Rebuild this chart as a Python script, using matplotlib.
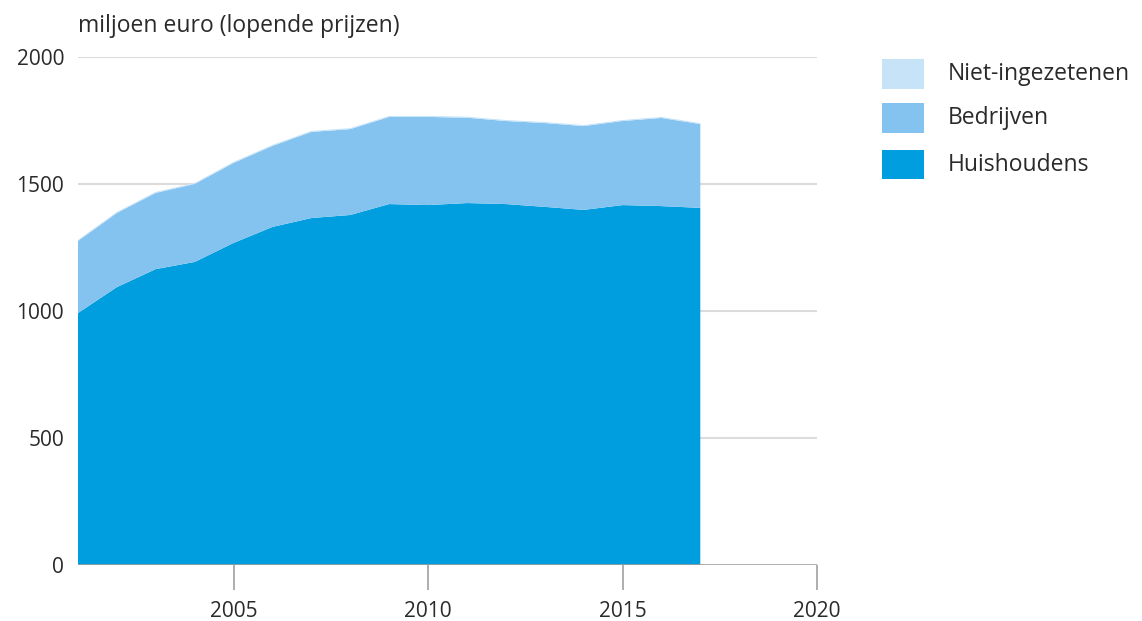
import numpy as np
import matplotlib.pyplot as plt
from matplotlib.patches import Rectangle

plt.rcParams['font.family'] = ['Open Sans', 'DejaVu Sans']

# --- data --------------------------------------------------------------------
years = [2001, 2002, 2003, 2004, 2005, 2006, 2007, 2008, 2009,
         2010, 2011, 2012, 2013, 2014, 2015, 2016, 2017]
huishoudens = [992, 1094, 1165, 1193, 1268, 1331, 1366, 1378, 1421,
               1417, 1425, 1421, 1410, 1398, 1417, 1413, 1406]
bedrijven = [284, 292, 300, 307, 315, 319, 339, 338, 343,
             347, 336, 327, 330, 330, 331, 347, 330]
niet_ingezetenen = [4, 4, 4, 4, 4, 4, 4, 4, 4,
                    4, 4, 4, 4, 4, 4, 4, 4]

labels = ['Huishoudens', 'Bedrijven', 'Niet-ingezetenen']
colors = ['#009ddf', '#84c3ef', '#c6e3f8']
yticks = [0, 500, 1000, 1500, 2000]
xticks = [2005, 2010, 2015, 2020]

# --- figure ------------------------------------------------------------------
fig = plt.figure(figsize=(11.42, 6.21), dpi=100)
ax = fig.add_axes([0.0683, 0.0902, 0.6471, 0.818])

ax.stackplot(years, huishoudens, bedrijven, niet_ingezetenen,
             colors=colors, linewidth=0, zorder=2)

ax.set_xlim(2001, 2020)
ax.set_ylim(0, 2000)

for v in yticks[1:]:
    ax.axhline(v, color='#dcdcdc', lw=1.5, zorder=1)
ax.axhline(0, color='#a0a0a0', lw=1.2, zorder=3)

for s in ax.spines.values():
    s.set_visible(False)

ax.set_yticks(yticks)
ax.set_yticklabels([str(v) for v in yticks])
ax.set_xticks(xticks)
ax.set_xticklabels([str(v) for v in xticks])
ax.tick_params(axis='y', length=0, pad=10, labelsize=15, labelcolor='#2a2a2a')
ax.tick_params(axis='x', direction='out', length=18, width=1.2, color='#a0a0a0',
               pad=8, labelsize=15, labelcolor='#2a2a2a')

fig.text(0.0683, 0.958, 'miljoen euro (lopende prijzen)', fontsize=16.5,
         color='#2a2a2a', ha='left', va='center')

# legend
leg_rows = [('Niet-ingezetenen', colors[2], 0.881),
            ('Bedrijven', colors[1], 0.810),
            ('Huishoudens', colors[0], 0.735)]
for name, c, yc in leg_rows:
    fig.add_artist(Rectangle((882 / 1142, yc - 0.024), 42 / 1142, 0.048,
                             transform=fig.transFigure, color=c, lw=0))
    fig.text(948 / 1142, yc, name, fontsize=16.5, color='#2a2a2a',
             ha='left', va='center')

fig.savefig('out.png', dpi=100)
